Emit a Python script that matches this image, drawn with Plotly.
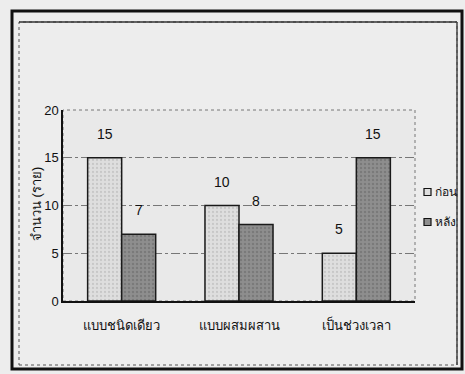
import plotly.graph_objects as go

# Data
categories = ["แบบชนิดเดียว", "แบบผสมผสาน", "เป็นช่วงเวลา"]
before = [15, 10, 5]
after = [7, 8, 15]
series_names = ["ก่อน", "หลัง"]
y_ticks = [0, 5, 10, 15, 20]
y_title = "จำนวน (ราย)"

FONT = "Liberation Sans Narrow, Arial Narrow, Liberation Sans, sans-serif"
LIGHT, DARK = "#dedede", "#8e8e8e"

# Plot area in pixels (for frame shapes, converted to paper coords)
W, H = 465, 374
L, R, T, B = 63, 50, 110, 73
pw, ph = W - L - R, H - T - B


def px(x):
    return (x - L) / pw


def py(y):
    return (H - B - y) / ph


fig = go.Figure()
fig.add_trace(go.Bar(
    x=categories, y=before, name=series_names[0],
    marker=dict(color=LIGHT, line=dict(color="#1a1a1a", width=1.5),
                pattern=dict(shape=".", fgcolor="#b0b0b0", size=4, solidity=0.25)),
))
fig.add_trace(go.Bar(
    x=categories, y=after, name=series_names[1],
    marker=dict(color=DARK, line=dict(color="#1a1a1a", width=1.5),
                pattern=dict(shape=".", fgcolor="#666666", size=4, solidity=0.3)),
))

# Value labels above each bar
for vals, shift in ((before, -17), (after, 17)):
    for c, v in zip(categories, vals):
        fig.add_annotation(x=c, y=v, text=str(v), showarrow=False,
                           xshift=shift, yshift=24,
                           font=dict(family=FONT, size=14, color="#111"))

# Compact legend at the right edge
for i, (name, col) in enumerate(zip(series_names, (LIGHT, DARK))):
    cy = 192 + i * 30
    fig.add_shape(type="rect", xref="paper", yref="paper",
                  x0=px(424), x1=px(431), y0=py(cy + 3.5), y1=py(cy - 3.5),
                  fillcolor=col, line=dict(color="#111", width=1.2))
    fig.add_annotation(xref="paper", yref="paper", x=px(433), y=py(cy),
                       text=name, showarrow=False, xanchor="left",
                       yanchor="middle", font=dict(family=FONT, size=12))

# Y axis title
fig.add_annotation(xref="paper", yref="paper", x=px(36), y=py(204),
                   text=y_title, textangle=-90, showarrow=False,
                   xanchor="center", yanchor="middle",
                   font=dict(family=FONT, size=13))

# Chart frames
fig.add_shape(type="rect", xref="paper", yref="paper",
              x0=px(12), x1=px(462), y0=py(369), y1=py(11),
              line=dict(color="#111", width=3), layer="below")
fig.add_shape(type="rect", xref="paper", yref="paper",
              x0=px(19), x1=px(457), y0=py(365), y1=py(22),
              line=dict(color="#555", width=1, dash="dot"), layer="below")
fig.add_shape(type="line", xref="paper", yref="paper",
              x0=px(19), x1=px(457), y0=py(22), y1=py(22),
              line=dict(color="#333", width=1.5))
fig.add_shape(type="line", xref="paper", yref="paper",
              x0=px(457), x1=px(457), y0=py(365), y1=py(22),
              line=dict(color="#444", width=1.5))
fig.add_shape(type="rect", xref="paper", yref="paper",
              x0=0, x1=1, y0=0, y1=1,
              line=dict(color="#777", width=1, dash="dot"), layer="below")

fig.update_layout(
    width=W, height=H,
    margin=dict(l=L, r=R, t=T, b=B, autoexpand=False),
    paper_bgcolor="#ededed",
    plot_bgcolor="#e9e9e9",
    barmode="group",
    bargap=0.42,
    bargroupgap=0,
    font=dict(family=FONT, size=13, color="#111"),
    showlegend=False,
)
fig.update_xaxes(showline=True, linecolor="#111", linewidth=1.5,
                 ticks="", tickfont=dict(size=13), showgrid=False,
                 ticklabelstandoff=12)
fig.update_yaxes(range=[0, 20], tickvals=y_ticks, showline=True,
                 linecolor="#111", linewidth=1.5, ticks="",
                 gridcolor="#777", griddash="dashdot", gridwidth=1,
                 zeroline=False, tickfont=dict(size=13))

fig.write_html("out.html")
